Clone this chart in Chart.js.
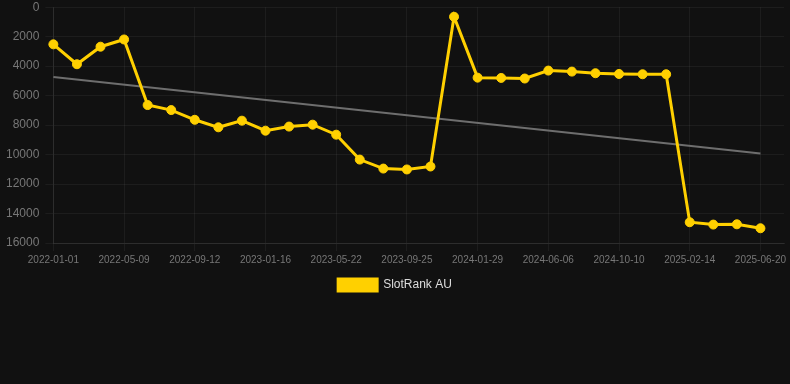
<!DOCTYPE html>
<html>
<head>
<meta charset="utf-8">
<script src="https://cdn.jsdelivr.net/npm/chart.js@4/dist/chart.umd.min.js"></script>
<style>
  html, body { margin: 0; padding: 0; background: #111111; overflow: hidden; }
  #wrap { width: 790px; height: 307px; position: relative; margin-top: -6px; }
</style>
</head>
<body>
<div id="wrap"><canvas id="rankChart"></canvas></div>
<script>
const dates = [
    "2022-01-01", "2022-02-13", "2022-03-28", "2022-05-09", "2022-06-20", "2022-08-01",
    "2022-09-12", "2022-10-24", "2022-12-05", "2023-01-16", "2023-02-27", "2023-04-10",
    "2023-05-22", "2023-07-03", "2023-08-14", "2023-09-25", "2023-11-06", "2023-12-18",
    "2024-01-29", "2024-03-11", "2024-04-24", "2024-06-06", "2024-07-18", "2024-08-29",
    "2024-10-10", "2024-11-21", "2025-01-02", "2025-02-14", "2025-03-28", "2025-05-09",
    "2025-06-20", "2025-08-01"
];
const rankAU = [
    2520, 3870, 2680, 2190, 6640, 6980, 7640, 8150, 7700, 8380,
    8100, 7970, 8650, 10340, 10950, 11010, 10810, 650, 4780, 4800,
    4840, 4300, 4370, 4480, 4530, 4550, 4550, 14590, 14750, 14730,
    15000
];
const trendStart = 4730;
const trendEnd = 9930;
const yTicks = [0, 2000, 4000, 6000, 8000, 10000, 12000, 14000, 16000];

const ctx = document.getElementById('rankChart').getContext('2d');
const rankChart = new Chart(ctx, {
    type: 'line',
    data: {
        labels: dates,
        datasets: [{
            label: 'SlotRank AU',
            data: rankAU,
            borderColor: '#FFD000',
            backgroundColor: '#FFD000',
            borderWidth: 3,
            pointRadius: 4.5,
            pointBorderWidth: 1,
            pointHoverRadius: 5,
            tension: 0,
            fill: false
        }, {
            label: 'trend',
            data: [
                { x: dates[0], y: trendStart },
                { x: dates[rankAU.length - 1], y: trendEnd }
            ],
            borderColor: '#6e6e6e',
            borderWidth: 2,
            pointRadius: 0,
            fill: false
        }]
    },
    options: {
        responsive: true,
        maintainAspectRatio: false,
        animation: false,
        plugins: {
            legend: {
                position: 'bottom',
                labels: {
                    color: '#dddddd',
                    font: { size: 12, family: 'Arial, "Liberation Sans", sans-serif' },
                    boxWidth: 39,
                    boxHeight: 12,
                    filter: item => item.text !== 'trend'
                }
            },
            tooltip: { enabled: false }
        },
        scales: {
            x: {
                grid: { color: 'rgba(255,255,255,0.05)' },
                border: { color: 'rgba(255,255,255,0.08)' },
                ticks: {
                    color: '#777777',
                    font: { size: 10, family: 'Arial, "Liberation Sans", sans-serif' },
                    maxRotation: 0,
                    autoSkip: true,
                    callback: function (val, i) { return i % 3 === 0 ? this.getLabelForValue(val) : null; }
                }
            },
            y: {
                reverse: true,
                min: 0,
                max: 16000,
                afterBuildTicks: axis => { axis.ticks = yTicks.map(v => ({ value: v })); },
                grid: { color: 'rgba(255,255,255,0.05)' },
                border: { color: 'rgba(255,255,255,0.08)' },
                ticks: {
                    color: '#777777',
                    font: { size: 12, family: 'Arial, "Liberation Sans", sans-serif' },
                    padding: 6,
                    callback: v => String(v)
                }
            }
        }
    }
});
</script>
</body>
</html>
